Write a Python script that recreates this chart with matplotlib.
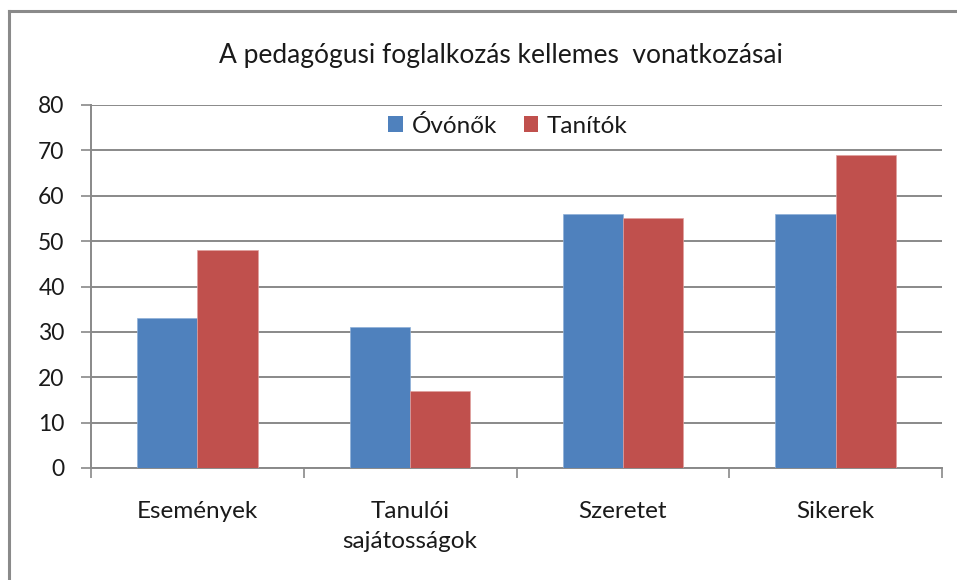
import matplotlib
matplotlib.use("Agg")
import matplotlib.pyplot as plt
import numpy as np
from matplotlib.patches import Patch
from matplotlib.lines import Line2D

title = "A pedagógusi foglalkozás kellemes  vonatkozásai"
categories = ["Események", "Tanulói\nsajátosságok", "Szeretet", "Sikerek"]
series_names = ["Óvónők", "Tanítók"]
ovonok = [33, 31, 56, 56]
tanitok = [48, 17, 55, 69]
yticks = [0, 10, 20, 30, 40, 50, 60, 70, 80]

plt.rcParams['font.family'] = ['Lato', 'DejaVu Sans']
blue = "#4F81BD"
red = "#C0504D"
grid_c = "#898989"
txt_c = "#1a1a1a"

fig = plt.figure(figsize=(9.57, 5.8), dpi=100)
ax = fig.add_axes([91/957, 1-468/580, (942-91)/957, (468-105)/580])

x = np.arange(len(categories))
w = 0.283
ax.bar(x - w/2, ovonok, w, color=blue, edgecolor="#8fb0d8", linewidth=0.5, label=series_names[0], zorder=3)
ax.bar(x + w/2, tanitok, w, color=red, edgecolor="#e0a09e", linewidth=0.5, label=series_names[1], zorder=3)

ax.set_xlim(-0.5, len(categories) - 0.5)
ax.set_ylim(0, 80)
ax.set_yticks(yticks)
ax.set_yticklabels([str(v) for v in yticks], fontsize=16.5, color=txt_c)
ax.yaxis.grid(True, color=grid_c, linewidth=1.4, zorder=0)
ax.tick_params(axis='y', length=7, width=1.2, color=grid_c, pad=12)

ax.set_xticks(x)
ax.set_xticklabels(categories, fontsize=17.5, color=txt_c, linespacing=1.5, va='top')
ax.set_xticks(np.arange(-0.5, len(categories)), minor=True)
ax.tick_params(axis='x', which='major', length=0, pad=24)
ax.tick_params(axis='x', which='minor', length=7, width=1.2, color=grid_c, direction='out')

for s in ['top', 'right']:
    ax.spines[s].set_visible(False)
for s in ['left', 'bottom']:
    ax.spines[s].set_color(grid_c)
    ax.spines[s].set_linewidth(1.4)

handles = [Patch(facecolor=blue, edgecolor='none'), Patch(facecolor=red, edgecolor='none')]
leg = ax.legend(handles, series_names, loc='center', bbox_to_anchor=(0.49, 0.943),
                ncol=2, frameon=False, fontsize=17.5, handlelength=0.6, handleheight=0.6,
                handletextpad=0.35, columnspacing=1.1)
for t in leg.get_texts():
    t.set_color(txt_c)

fig.text(0.523, 1-55/580, title, ha='center', va='center', fontsize=19, color=txt_c)

# figure border (top and left)
fig.add_artist(Line2D([9/957, 9/957], [0, 1-11/580], color="#8a8a8a", linewidth=2.2, transform=fig.transFigure))
fig.add_artist(Line2D([9/957, 1], [1-11/580, 1-11/580], color="#8a8a8a", linewidth=2.2, transform=fig.transFigure))

fig.savefig("out.png", dpi=100, facecolor="white")
